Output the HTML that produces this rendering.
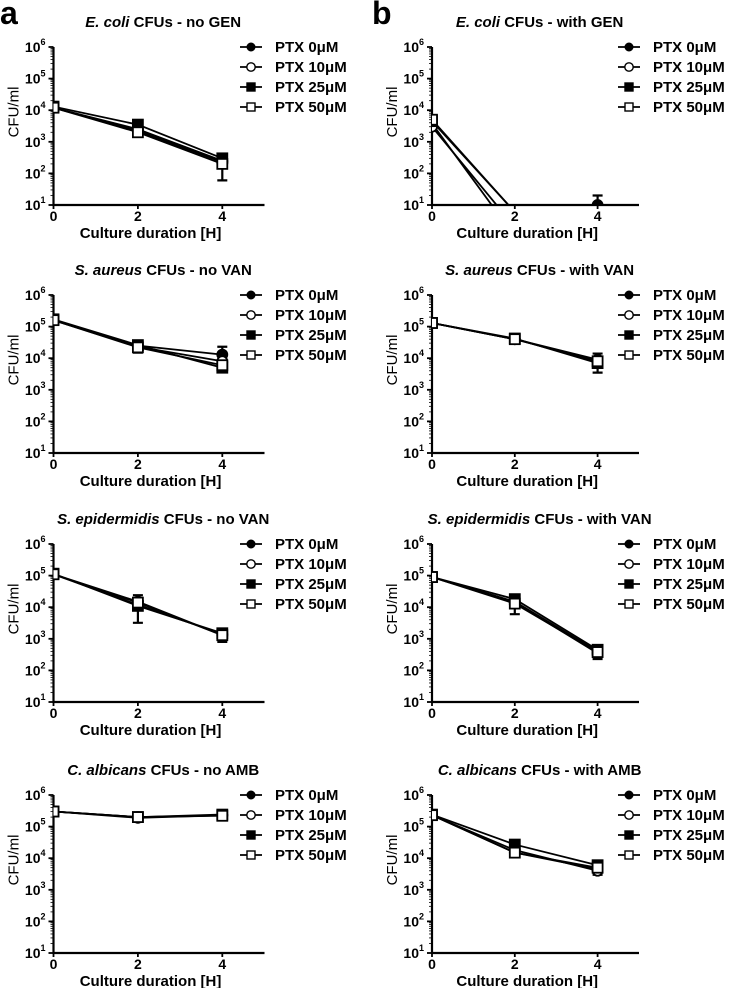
<!DOCTYPE html>
<html><head><meta charset="utf-8"><style>
html,body{margin:0;padding:0;background:#fff;}
svg{display:block;font-family:"Liberation Sans",Arial,sans-serif;font-weight:bold;}
</style></head><body>
<svg id="fig" width="733" height="988" viewBox="0 0 733 988" xmlns="http://www.w3.org/2000/svg"></svg>
<script>
const times = [0, 2, 4];
const seriesNames = ["PTX 0\u03bcM", "PTX 10\u03bcM", "PTX 25\u03bcM", "PTX 50\u03bcM"];
const yTickExps = [1, 2, 3, 4, 5, 6];
const xTickLabels = [0, 2, 4];
const panelTitlesItalic = ["E. coli","E. coli","S. aureus","S. aureus","S. epidermidis","S. epidermidis","C. albicans","C. albicans"];
const panelTitlesRest = [" CFUs - no GEN"," CFUs - with GEN"," CFUs - no VAN"," CFUs - with VAN"," CFUs - no VAN"," CFUs - with VAN"," CFUs - no AMB"," CFUs - with AMB"];
// values CFU/ml per panel, per series [t0,t2,t4]
const ecoliNoGen = [[1.2e4,2.2e3,2.3e2],[1.2e4,2.5e3,2.5e2],[1.3e4,3.5e3,3.0e2],[1.2e4,2.0e3,2.0e2]];
const ecoliGen = [[3.8e3,1,10],[3.0e3,2,10],[4.5e3,6,10],[5.0e3,6,10]];
const aureusNoVan = [[1.6e5,2.5e4,1.3e4],[1.6e5,2.3e4,8e3],[1.7e5,2.6e4,5e3],[1.6e5,2.2e4,6e3]];
const aureusVan = [[1.3e5,4e4,8e3],[1.3e5,4e4,9e3],[1.3e5,4.2e4,7e3],[1.3e5,4e4,8e3]];
const epiNoVan = [[1.1e5,1.2e4,1.4e3],[1.1e5,1.5e4,1.3e3],[1.15e5,1.1e4,1.5e3],[1.1e5,1.4e4,1.3e3]];
const epiVan = [[9e4,1.5e4,4e2],[9e4,1.4e4,3.5e2],[9e4,1.8e4,4.5e2],[9e4,1.3e4,3.8e2]];
const albNoAmb = [[3e5,2e5,2.3e5],[3e5,1.9e5,2.3e5],[3e5,2e5,2.4e5],[3e5,2e5,2.2e5]];
const albAmb = [[2.3e5,1.5e4,4.5e3],[2.3e5,1.8e4,4e3],[2.4e5,2.7e4,6e3],[2.3e5,1.5e4,5e3]];
// error bars: [low, high] per time point (envelope)
const errEcoliNoGen = [[1e4,1.5e4],[1.8e3,4e3],[60,380]];
const errEcoliGen = [[3e3,5e3],[1,1],[10,20]];
const errAureusNoVan = [[1.4e5,1.9e5],[1.5e4,3.2e4],[4e3,2.3e4]];
const errAureusVan = [[1.1e5,1.5e5],[3.5e4,4.7e4],[3.5e3,1.4e4]];
const errEpiNoVan = [[9e4,1.4e5],[3.2e3,2.4e4],[8e2,1.9e3]];
const errEpiVan = [[8e4,1e5],[6e3,2.2e4],[2.3e2,5.5e2]];
const errAlbNoAmb = [[2.6e5,3.5e5],[1.7e5,2.4e5],[1.9e5,2.8e5]];
const errAlbAmb = [[2e5,2.8e5],[1.3e4,3e4],[3e3,6.5e3]];

const panelData = [ecoliNoGen, ecoliGen, aureusNoVan, aureusVan, epiNoVan, epiVan, albNoAmb, albAmb];
const panelErr = [errEcoliNoGen, errEcoliGen, errAureusNoVan, errAureusVan, errEpiNoVan, errEpiVan, errAlbNoAmb, errAlbAmb];
const panelNames = ["ecoli-no-gen","ecoli-with-gen","saureus-no-van","saureus-with-van","sepidermidis-no-van","sepidermidis-with-van","calbicans-no-amb","calbicans-with-amb"];

const NS = "http://www.w3.org/2000/svg";
const svg = document.getElementById("fig");
function mk(tag, attrs, parent){const e=document.createElementNS(NS,tag);for(const k in attrs)e.setAttribute(k,attrs[k]);(parent||svg).appendChild(e);return e;}

const rowTop = [47, 295, 544, 795];
const plotH = 158;
const colX = [[53.5, 42.2, 240, 275], [432, 41.4, 618, 653]];

const lettersA = mk("text",{x:0,y:24,"font-size":"32"});
lettersA.textContent="a";


const lettersB = mk("text",{x:372,y:24,"font-size":"32"});
lettersB.textContent="b";



for (let p=0;p<8;p++){
  const row = Math.floor(p/2), col = p%2;
  const top = rowTop[row], bot = top+plotH;
  const x0 = colX[col][0], kx = colX[col][1];
  const xs = t => x0 + t*kx;
  const ys = v => bot - (Math.log10(v)-1)/5*plotH;
  const g = mk("g",{});
  
  

  const ti = mk("text",{x:xs(2.6),y:top-20,"text-anchor":"middle","font-size":"15"},g);
  
  
  const ts1 = mk("tspan",{"font-style":"italic"},ti); ts1.textContent=panelTitlesItalic[p];
  const ts2 = mk("tspan",{},ti); ts2.textContent=panelTitlesRest[p];

  const yl = mk("text",{transform:`translate(${x0-35},${top+plotH/2-14}) rotate(-90)`,"text-anchor":"middle","font-size":"15","font-weight":"normal"},g);
  yl.textContent="CFU/ml";
  
  

  const cid="clip"+p;
  const cp = mk("clipPath",{id:cid},g);
  mk("rect",{x:x0,y:top-10,width:5*kx+10,height:plotH+10},cp);

  const ya = mk("line",{x1:x0,y1:top,x2:x0,y2:bot+1,stroke:"#000","stroke-width":"2.2"},g);
  
  
  const xa = mk("line",{x1:x0-1,y1:bot,x2:xs(5),y2:bot,stroke:"#000","stroke-width":"2.2"},g);
  
  
  for (const e of yTickExps){
    const y = ys(Math.pow(10,e));
    mk("line",{x1:x0-5,y1:y,x2:x0,y2:y,stroke:"#000","stroke-width":"1.8"},g);
    if (e<6) for (let m=2;m<10;m++){const ym=ys(m*Math.pow(10,e));mk("line",{x1:x0-3,y1:ym,x2:x0,y2:ym,stroke:"#000","stroke-width":"0.8"},g);}
    const tl = mk("text",{x:x0-8,y:y+5,"text-anchor":"end","font-size":"14"},g);
    
    
    const a=mk("tspan",{},tl);a.textContent="10";
    const b=mk("tspan",{"font-size":"9",dy:"-7"},tl);b.textContent=String(e);
  }
  for (const t of xTickLabels){
    mk("line",{x1:xs(t),y1:bot,x2:xs(t),y2:bot+4,stroke:"#000","stroke-width":"1.8"},g);
    const tl = mk("text",{x:xs(t),y:bot+16,"text-anchor":"middle","font-size":"14"},g);
    tl.textContent=String(t);
    
    
  }
  const xt = mk("text",{x:xs(2.3),y:bot+33,"text-anchor":"middle","font-size":"15"},g);
  xt.textContent="Culture duration [H]";
  
  

  const data = panelData[p], err = panelErr[p];
  const pg = mk("g",{"clip-path":`url(#${cid})`},g);
  for (let i=0;i<times.length;i++){
    const lo=ys(err[i][0]), hi=ys(err[i][1]), x=xs(times[i]);
    if (Math.abs(lo-hi)<1) continue;
    const eb = mk("path",{d:`M${x},${lo}V${hi}M${x-5},${lo}H${x+5}M${x-5},${hi}H${x+5}`,stroke:"#000","stroke-width":"2.2",fill:"none"},pg);
    
    
  }
  for (let s=0;s<4;s++){
    const vals=data[s];
    const d = vals.map((v,i)=>(i?"L":"M")+xs(times[i])+","+ys(v)).join("");
    const ln = mk("path",{d:d,stroke:"#000","stroke-width":"1.8",fill:"none"},pg);
    
    
    for (let i=0;i<vals.length;i++){
      const x=xs(times[i]), y=ys(vals[i]);
      if (y>bot+0.5) continue;
      if (p===1 && i===2 && s>0) continue;
      let m;
      const fill = (s%2===0)?"#000":"#fff";
      if (s<2) m = mk("circle",{cx:x,cy:y,r:5,fill:fill,stroke:"#000","stroke-width":"1.8"},pg);
      else m = mk("rect",{x:x-5,y:y-5,width:10,height:10,fill:fill,stroke:"#000","stroke-width":"1.8"},pg);
      
      
    }
  }
  const lx = colX[col][2], tx = colX[col][3];
  for (let s=0;s<4;s++){
    const ly = top + s*20;
    const lg = mk("g",{},g);
    
    
    mk("line",{x1:lx,y1:ly,x2:lx+22,y2:ly,stroke:"#000","stroke-width":"1.8"},lg);
    const fill=(s%2===0)?"#000":"#fff";
    if (s<2) mk("circle",{cx:lx+11,cy:ly,r:s===0?3.8:4.2,fill:fill,stroke:"#000","stroke-width":"1.4"},lg);
    else mk("rect",{x:lx+7,y:ly-4,width:8,height:8,fill:fill,stroke:"#000","stroke-width":"1.4"},lg);
    const lt = mk("text",{x:tx,y:ly+5,"font-size":"15"},lg);
    lt.textContent=seriesNames[s];
  }
}
</script>
</body></html>
